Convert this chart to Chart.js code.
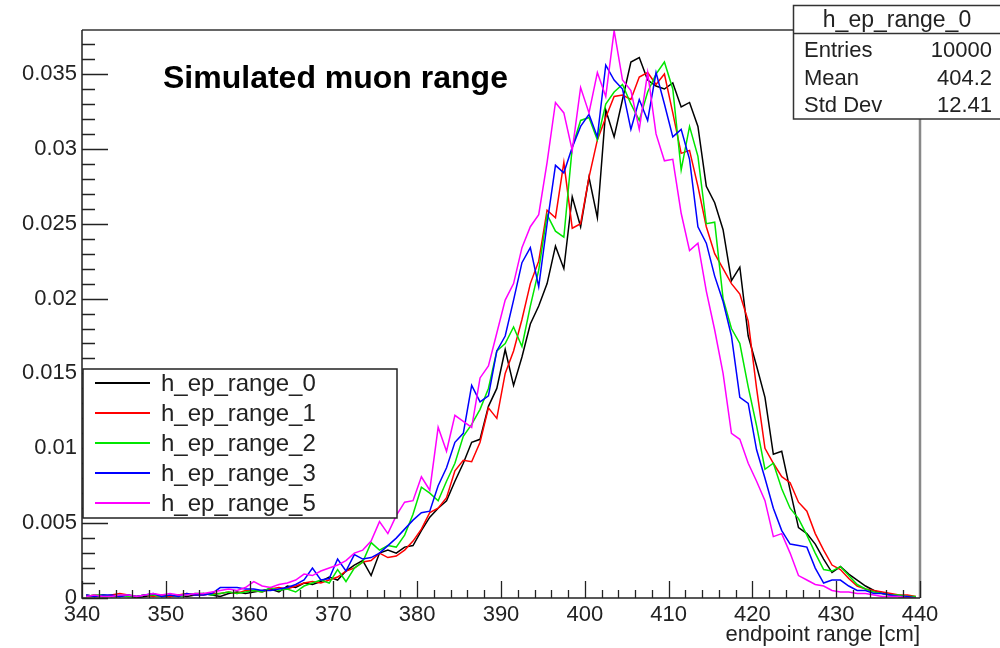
<!DOCTYPE html>
<html>
<head>
<meta charset="utf-8">
<script src="https://cdn.jsdelivr.net/npm/chart.js@4.4.1/dist/chart.umd.min.js"></script>
<style>
  html, body { margin: 0; padding: 0; background: #fff; }
  #chart { display: block; }
</style>
</head>
<body>
<canvas id="chart" width="1000" height="648"></canvas>
<script>
// histogram binning: 100 bins of 1 cm from 340 to 440
const binLow = 340;
const binWidth = 1;

const seriesNames = ['h_ep_range_0', 'h_ep_range_1', 'h_ep_range_2', 'h_ep_range_3', 'h_ep_range_5'];
const seriesColors = ['#000000', '#ff0000', '#00e600', '#0000ff', '#ff00ff'];

const h_ep_range_0 = [
  0.0002,0.0001,0.0002,0.0001,0.0001,0.0002,0.0000,0.0001,0.0002,0.0001,
  0.0001,0.0002,0.0001,0.0002,0.0003,0.0002,0.0001,0.0003,0.0004,0.0003,
  0.0004,0.0005,0.0006,0.0004,0.0008,0.0007,0.0010,0.0009,0.0011,0.0014,
  0.0012,0.0018,0.0022,0.0025,0.0015,0.0030,0.0032,0.0030,0.0034,0.0035,
  0.0045,0.0054,0.0060,0.0065,0.0078,0.0090,0.0104,0.0106,0.0128,0.0140,
  0.0166,0.0142,0.0161,0.0183,0.0195,0.0210,0.0235,0.0220,0.0268,0.0248,
  0.0281,0.0254,0.0326,0.0308,0.0333,0.0358,0.0361,0.0346,0.0342,0.0340,
  0.0344,0.0328,0.0331,0.0315,0.0275,0.0264,0.0246,0.0212,0.0221,0.0175,
  0.0155,0.0134,0.0096,0.0098,0.0072,0.0047,0.0043,0.0036,0.0026,0.0017,
  0.0021,0.0016,0.0012,0.0008,0.0005,0.0003,0.0002,0.0001,0.0001,0.0000
];
const h_ep_range_1 = [
  0.0001,0.0002,0.0001,0.0002,0.0003,0.0002,0.0001,0.0002,0.0001,0.0002,
  0.0001,0.0002,0.0003,0.0002,0.0002,0.0003,0.0003,0.0004,0.0003,0.0005,
  0.0005,0.0004,0.0006,0.0007,0.0006,0.0008,0.0010,0.0011,0.0010,0.0012,
  0.0014,0.0018,0.0020,0.0024,0.0025,0.0030,0.0027,0.0028,0.0032,0.0038,
  0.0046,0.0057,0.0060,0.0067,0.0085,0.0092,0.0091,0.0104,0.0127,0.0120,
  0.0150,0.0165,0.0186,0.0210,0.0225,0.0259,0.0254,0.0291,0.0247,0.0250,
  0.0281,0.0306,0.0321,0.0335,0.0336,0.0333,0.0348,0.0351,0.0343,0.0350,
  0.0324,0.0297,0.0299,0.0275,0.0248,0.0230,0.0220,0.0210,0.0203,0.0185,
  0.0140,0.0100,0.0090,0.0081,0.0077,0.0064,0.0058,0.0043,0.0032,0.0022,
  0.0019,0.0013,0.0008,0.0006,0.0005,0.0004,0.0003,0.0002,0.0002,0.0001
];
const h_ep_range_2 = [
  0.0001,0.0002,0.0002,0.0001,0.0002,0.0001,0.0001,0.0002,0.0002,0.0001,
  0.0002,0.0001,0.0002,0.0003,0.0003,0.0002,0.0003,0.0004,0.0003,0.0004,
  0.0005,0.0004,0.0007,0.0005,0.0006,0.0004,0.0008,0.0010,0.0012,0.0010,
  0.0019,0.0011,0.0020,0.0024,0.0037,0.0032,0.0035,0.0034,0.0042,0.0056,
  0.0074,0.0070,0.0065,0.0078,0.0090,0.0108,0.0116,0.0126,0.0140,0.0165,
  0.0170,0.0181,0.0168,0.0195,0.0219,0.0256,0.0245,0.0241,0.0301,0.0319,
  0.0321,0.0306,0.0330,0.0338,0.0343,0.0330,0.0319,0.0338,0.0350,0.0358,
  0.0340,0.0286,0.0315,0.0295,0.0250,0.0251,0.0200,0.0180,0.0170,0.0141,
  0.0115,0.0086,0.0090,0.0073,0.0060,0.0053,0.0042,0.0030,0.0019,0.0018,
  0.0021,0.0015,0.0009,0.0006,0.0004,0.0003,0.0002,0.0002,0.0001,0.0001
];
const h_ep_range_3 = [
  0.0002,0.0001,0.0002,0.0002,0.0001,0.0002,0.0001,0.0002,0.0003,0.0001,
  0.0002,0.0001,0.0003,0.0002,0.0002,0.0003,0.0007,0.0007,0.0007,0.0006,
  0.0006,0.0005,0.0005,0.0006,0.0007,0.0009,0.0012,0.0020,0.0012,0.0013,
  0.0026,0.0018,0.0029,0.0026,0.0027,0.0030,0.0035,0.0040,0.0046,0.0052,
  0.0057,0.0058,0.0075,0.0087,0.0104,0.0110,0.0142,0.0131,0.0135,0.0165,
  0.0175,0.0199,0.0224,0.0234,0.0208,0.0250,0.0289,0.0284,0.0301,0.0315,
  0.0323,0.0308,0.0356,0.0346,0.0340,0.0313,0.0333,0.0319,0.0351,0.0330,
  0.0308,0.0313,0.0293,0.0248,0.0237,0.0215,0.0198,0.0175,0.0134,0.0130,
  0.0099,0.0080,0.0060,0.0045,0.0036,0.0035,0.0034,0.0020,0.0010,0.0012,
  0.0012,0.0008,0.0005,0.0005,0.0003,0.0003,0.0002,0.0001,0.0001,0.0000
];
const h_ep_range_5 = [
  0.0001,0.0002,0.0001,0.0001,0.0002,0.0002,0.0001,0.0002,0.0003,0.0002,
  0.0003,0.0002,0.0002,0.0003,0.0003,0.0004,0.0005,0.0006,0.0005,0.0007,
  0.0011,0.0008,0.0007,0.0009,0.0010,0.0012,0.0016,0.0015,0.0018,0.0020,
  0.0022,0.0025,0.0030,0.0032,0.0038,0.0051,0.0043,0.0055,0.0064,0.0065,
  0.0081,0.0072,0.0114,0.0098,0.0122,0.0118,0.0114,0.0147,0.0155,0.0177,
  0.0199,0.0210,0.0234,0.0248,0.0256,0.0291,0.0331,0.0324,0.0299,0.0341,
  0.0324,0.0351,0.0335,0.0379,0.0346,0.0339,0.0313,0.0351,0.0310,0.0292,
  0.0293,0.0257,0.0232,0.0237,0.0205,0.0179,0.0150,0.0110,0.0106,0.0090,
  0.0078,0.0065,0.0041,0.0043,0.0030,0.0015,0.0012,0.0009,0.0008,0.0005,
  0.0004,0.0004,0.0003,0.0003,0.0002,0.0001,0.0001,0.0001,0.0000,0.0000
];

const statsTitle = 'h_ep_range_0';
const statsLabels = ['Entries', 'Mean', 'Std Dev'];
const statsValues = ['10000', '404.2', '12.41'];

const plotTitle = 'Simulated muon range';
const xTitle = 'endpoint range [cm]';

const FONT = '"Liberation Sans", Arial, Helvetica, sans-serif';
const allSeries = [h_ep_range_0, h_ep_range_1, h_ep_range_2, h_ep_range_3, h_ep_range_5];

function toPoints(values) {
  return values.map((v, i) => ({ x: binLow + binWidth * (i + 0.5), y: v }));
}

const datasets = allSeries.map((vals, k) => ({
  label: seriesNames[k],
  data: toPoints(vals),
  borderColor: seriesColors[k],
  borderWidth: 1.5,
  pointRadius: 0,
  tension: 0,
  fill: false,
  order: allSeries.length - 1 - k   // later histograms drawn on top, like ROOT
}));

function onStep(v, step) {
  return Math.abs(v / step - Math.round(v / step)) < 1e-6;
}

// ROOT-like frame, inward ticks, title, legend and stats box
const rootStyle = {
  id: 'rootStyle',
  afterDraw(chart) {
    const ctx = chart.ctx;
    const a = chart.chartArea;
    const xs = chart.scales.x, ys = chart.scales.y;
    ctx.save();

    // frame
    ctx.strokeStyle = '#333';
    ctx.lineWidth = 1.5;
    ctx.beginPath();
    ctx.moveTo(a.left, a.top); ctx.lineTo(793, a.top);
    ctx.stroke();
    ctx.strokeStyle = '#888';
    ctx.lineWidth = 2.5;
    ctx.beginPath();
    ctx.moveTo(a.right, 119); ctx.lineTo(a.right, a.bottom);
    ctx.stroke();
    ctx.strokeStyle = '#222';
    ctx.lineWidth = 1.5;
    ctx.beginPath();
    ctx.moveTo(a.left, a.top); ctx.lineTo(a.left, a.bottom); ctx.lineTo(a.right, a.bottom);
    ctx.stroke();

    // y ticks (major 0.005, minor 0.001)
    ctx.lineWidth = 1.3;
    ctx.beginPath();
    for (let i = 0; i <= 37; i++) {
      const v = i * 0.001;
      const py = Math.round(ys.getPixelForValue(v)) + 0.5;
      const len = i % 5 === 0 ? 26 : 13;
      ctx.moveTo(a.left, py); ctx.lineTo(a.left + len, py);
    }
    // x ticks (major 10, minor 2)
    for (let x = 340; x <= 440; x += 2) {
      const px = Math.round(xs.getPixelForValue(x)) + 0.5;
      const len = x % 10 === 0 ? 17 : 8;
      ctx.moveTo(px, a.bottom); ctx.lineTo(px, a.bottom - len);
    }
    ctx.stroke();

    // title
    ctx.fillStyle = '#000';
    ctx.font = 'bold 32px ' + FONT;
    ctx.textAlign = 'left';
    ctx.textBaseline = 'alphabetic';
    ctx.fillText(plotTitle, 163, 88);

    // x axis title
    ctx.font = '22px ' + FONT;
    ctx.fillStyle = '#222';
    ctx.textAlign = 'right';
    ctx.fillText(xTitle, a.right, 641);

    // stats box
    ctx.fillStyle = '#fff';
    ctx.fillRect(793, 5, 207, 114);
    ctx.strokeStyle = '#333';
    ctx.lineWidth = 1.5;
    ctx.strokeRect(793.5, 5.5, 210, 113.5);
    ctx.beginPath();
    ctx.moveTo(793, 33.5); ctx.lineTo(1000, 33.5);
    ctx.stroke();
    ctx.fillStyle = '#222';
    ctx.font = '23px ' + FONT;
    ctx.textAlign = 'center';
    ctx.fillText(statsTitle, 897, 27);
    ctx.font = '22px ' + FONT;
    statsLabels.forEach((lab, i) => {
      const by = 57 + i * 27.5;
      ctx.textAlign = 'left';
      ctx.fillText(lab, 804, by);
      ctx.textAlign = 'right';
      ctx.fillText(statsValues[i], 992, by);
    });

    // legend box
    ctx.fillStyle = '#fff';
    ctx.fillRect(83, 369, 314, 149);
    ctx.strokeStyle = '#222';
    ctx.lineWidth = 1.5;
    ctx.strokeRect(83, 369, 314, 149);
    ctx.font = '24px ' + FONT;
    ctx.textAlign = 'left';
    seriesNames.forEach((name, i) => {
      const cy = 383 + i * 30;
      ctx.strokeStyle = seriesColors[i];
      ctx.lineWidth = 2;
      ctx.beginPath();
      ctx.moveTo(95, cy); ctx.lineTo(150, cy);
      ctx.stroke();
      ctx.fillStyle = '#222';
      ctx.fillText(name, 161, cy + 8);
    });

    ctx.restore();
  }
};

const ctx = document.getElementById('chart').getContext('2d');
new Chart(ctx, {
  type: 'line',
  data: { datasets },
  options: {
    responsive: false,
    animation: false,
    layout: { padding: { top: 30, right: 80, left: 0, bottom: 0 } },
    plugins: { legend: { display: false }, tooltip: { enabled: false } },
    scales: {
      x: {
        type: 'linear',
        min: 340,
        max: 440,
        grid: { display: false, drawTicks: false },
        border: { display: false },
        ticks: {
          stepSize: 10, autoSkip: false, maxRotation: 0, padding: 4,
          color: '#222', font: { size: 22, family: FONT }
        },
        afterBuildTicks(s) { s.ticks = s.ticks.filter(t => onStep(t.value, 10)); },
        afterFit(s) { s.height = 50; }
      },
      y: {
        min: 0,
        max: 0.03794,
        grid: { display: false, drawTicks: false },
        border: { display: false },
        ticks: {
          stepSize: 0.005, padding: 5,
          color: '#222', font: { size: 22, family: FONT },
          callback: v => String(Math.round(v * 1000) / 1000)
        },
        afterBuildTicks(s) { s.ticks = s.ticks.filter(t => onStep(t.value, 0.005)); },
        afterFit(s) { s.width = 82; }
      }
    }
  },
  plugins: [rootStyle]
});
</script>
</body>
</html>
